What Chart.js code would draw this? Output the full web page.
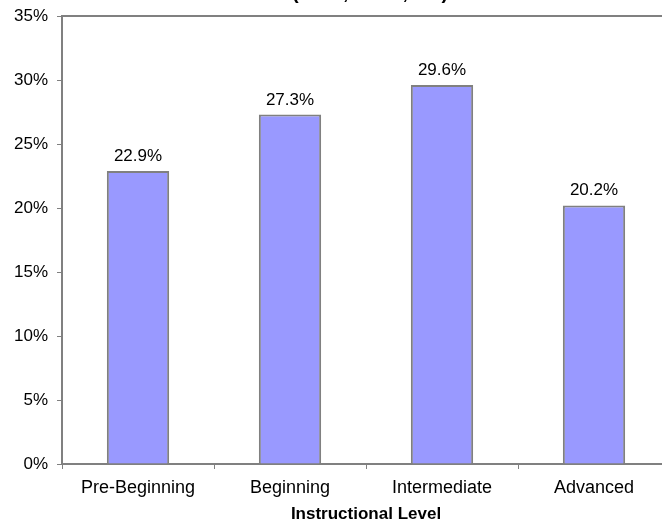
<!DOCTYPE html>
<html>
<head>
<meta charset="utf-8">
<script src="https://cdn.jsdelivr.net/npm/chart.js@4/dist/chart.umd.min.js"></script>
<style>
  html, body { margin: 0; padding: 0; background: #fff; overflow: hidden; }
  #wrap { position: absolute; left: 0; top: -30px; width: 680px; height: 555px; }
</style>
</head>
<body>
<div id="wrap"><canvas id="c"></canvas></div>
<script>
// Share of students at each instructional level
const categories = ['Pre-Beginning', 'Beginning', 'Intermediate', 'Advanced'];
const shares = [22.9, 27.3, 29.6, 20.2];
const yTicks = [0, 5, 10, 15, 20, 25, 30, 35];
const chartTitle = '(2007, N = 1,234)';
const xTitle = 'Instructional Level';

const FONT = '"Liberation Sans", Arial, sans-serif';
const AXIS_GREY = '#808080';

// Grey frame line along the top of the plot plus the chart heading
const framePlugin = {
  id: 'frame',
  afterDraw(chart) {
    const { ctx, chartArea } = chart;
    ctx.save();
    ctx.strokeStyle = AXIS_GREY;
    ctx.lineWidth = 2;
    ctx.beginPath();
    ctx.moveTo(chartArea.left - 1, chartArea.top);
    ctx.lineTo(chartArea.right, chartArea.top);
    ctx.stroke();
    ctx.fillStyle = '#000';
    ctx.font = 'bold 20px ' + FONT;
    ctx.textAlign = 'center';
    ctx.textBaseline = 'alphabetic';
    ctx.fillText(chartTitle, (chartArea.left + chartArea.right) / 2 + 4, chartArea.top - 17);
    ctx.restore();
  }
};

// Percentage labels above each bar
const valueLabels = {
  id: 'valueLabels',
  afterDatasetsDraw(chart) {
    const { ctx } = chart;
    const meta = chart.getDatasetMeta(0);
    ctx.save();
    ctx.fillStyle = '#000';
    ctx.font = '17px ' + FONT;
    ctx.textAlign = 'center';
    ctx.textBaseline = 'alphabetic';
    meta.data.forEach((bar, i) => {
      ctx.fillText(shares[i].toFixed(1) + '%', bar.x, bar.y - 10);
    });
    ctx.restore();
  }
};

new Chart(document.getElementById('c'), {
  type: 'bar',
  data: {
    labels: categories,
    datasets: [{
      data: shares,
      backgroundColor: '#9999FF',
      borderColor: AXIS_GREY,
      borderWidth: 2,
      categoryPercentage: 1,
      barPercentage: 0.41
    }]
  },
  options: {
    responsive: true,
    maintainAspectRatio: false,
    animation: false,
    events: [],
    layout: { padding: { top: 46, right: 10, bottom: 0, left: 0 } },
    plugins: {
      legend: { display: false },
      title: { display: false },
      tooltip: { enabled: false }
    },
    scales: {
      x: {
        offset: true,
        grid: {
          display: true,
          drawOnChartArea: false,
          offset: true,
          color: AXIS_GREY,
          tickLength: 5,
          tickWidth: 1
        },
        border: { display: true, color: AXIS_GREY, width: 2 },
        ticks: { color: '#000', font: { family: FONT, size: 18 }, padding: 8, maxRotation: 0 },
        title: {
          display: true,
          text: xTitle,
          color: '#000',
          font: { family: FONT, size: 17, weight: 'bold' },
          padding: { top: 4, bottom: 0 }
        },
        afterFit(scale) { scale.height = 61; }
      },
      y: {
        min: 0,
        max: 35,
        afterBuildTicks(scale) { scale.ticks = yTicks.map(v => ({ value: v })); },
        grid: {
          display: true,
          drawOnChartArea: false,
          color: AXIS_GREY,
          tickLength: 5,
          tickWidth: 1
        },
        border: { display: true, color: AXIS_GREY, width: 2 },
        ticks: {
          color: '#000',
          font: { family: FONT, size: 17 },
          padding: 9,
          callback: v => v + '%'
        },
        afterFit(scale) { scale.width = 62; }
      }
    }
  },
  plugins: [framePlugin, valueLabels]
});
</script>
</body>
</html>
